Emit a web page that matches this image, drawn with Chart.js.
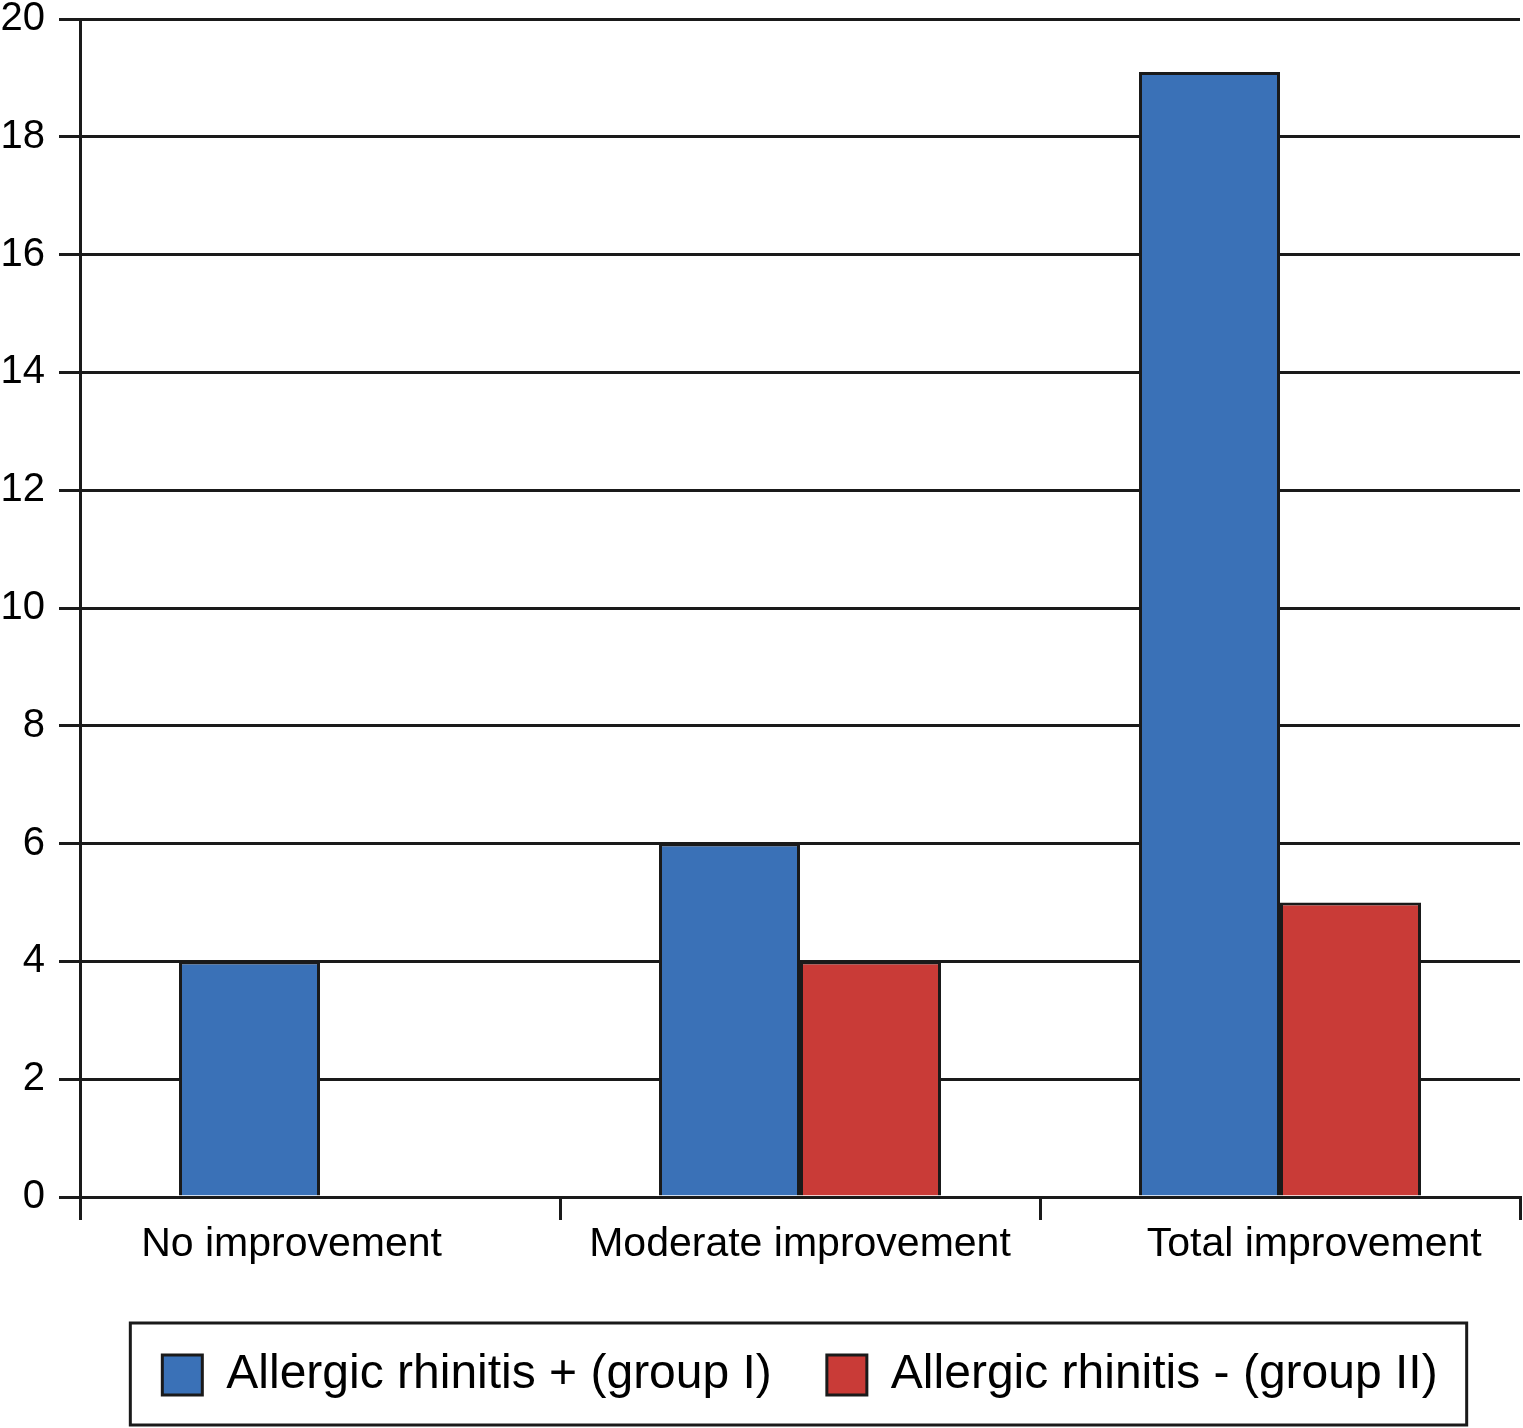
<!DOCTYPE html>
<html>
<head>
<meta charset="utf-8">
<script src="https://cdn.jsdelivr.net/npm/chart.js@4/dist/chart.umd.min.js"></script>
<style>
  html, body { margin: 0; padding: 0; background: #fff; }
  #wrap { width: 1523px; height: 1428px; }
</style>
</head>
<body>
<div id="wrap"><canvas id="c" width="1523" height="1428"></canvas></div>
<script>
const categories = ["No improvement", "Moderate improvement", "Total improvement"];
const groupI = [4, 6, 19.1];
const groupII = [0, 4, 5];
const seriesNames = ["Allergic rhinitis + (group I)", "Allergic rhinitis - (group II)"];
const yTicks = [0, 2, 4, 6, 8, 10, 12, 14, 16, 18, 20];

const INK = '#1a1a1a';
const BLUE = '#3a71b7';
const RED = '#c93b37';

Chart.defaults.font.family = '"Liberation Sans", Arial, Helvetica, sans-serif';
Chart.defaults.color = '#000';

const legendBorder = {
  id: 'legendBorder',
  afterDraw(chart) {
    const hb = chart.legend && chart.legend.legendHitBoxes;
    if (!hb || !hb.length) return;
    const first = hb[0], last = hb[hb.length - 1];
    const left = first.left - 32;
    const right = last.left + last.width + 29;
    const top = first.top - 28;
    const bottom = first.top + first.height + 26;
    const ctx = chart.ctx;
    ctx.save();
    ctx.strokeStyle = INK;
    ctx.lineWidth = 3;
    ctx.strokeRect(left, top, right - left, bottom - top);
    ctx.restore();
  }
};

// the original's category labels sit slightly spread out from the category centres
const labelPad = [[0, 5], [0, 0], [6, 0]];

new Chart(document.getElementById('c'), {
  type: 'bar',
  data: {
    labels: categories,
    datasets: [
      { label: seriesNames[0], data: groupI, backgroundColor: BLUE, borderColor: INK, borderWidth: 3 },
      { label: seriesNames[1], data: groupII, backgroundColor: RED, borderColor: INK, borderWidth: 3 }
    ]
  },
  options: {
    responsive: false,
    animation: false,
    layout: { padding: { top: 0, left: 0, right: 3, bottom: 19 } },
    datasets: { bar: { categoryPercentage: 0.5875, barPercentage: 1.0 } },
    plugins: {
      tooltip: { enabled: false },
      legend: {
        position: 'bottom',
        fullSize: false,
        labels: {
          boxWidth: 40,
          boxHeight: 40,
          padding: 55,
          color: '#000',
          font: { size: 48 }
        }
      }
    },
    scales: {
      x: {
        afterFit(scale) { scale.height = 99; },
        grid: { display: true, drawOnChartArea: false, drawTicks: true, tickLength: 23, color: INK, lineWidth: 3, offset: true },
        border: { display: true, color: INK, width: 3 },
        ticks: {
          font: { size: 41 }, color: '#000', padding: 0,
          callback(value, index) {
            const p = labelPad[index] || [0, 0];
            return ' '.repeat(p[0]) + categories[index] + ' '.repeat(p[1]);
          }
        }
      },
      y: {
        min: 0,
        max: 20,
        afterFit(scale) { scale.width = 80; },
        afterBuildTicks(scale) { scale.ticks = yTicks.map(v => ({ value: v })); },
        grid: { color: INK, lineWidth: 3, tickLength: 21, drawTicks: true },
        border: { display: true, color: INK, width: 3 },
        ticks: { stepSize: 2, font: { size: 40, lineHeight: 0.25 }, color: '#000', padding: 14 }
      }
    }
  },
  plugins: [legendBorder]
});
</script>
</body>
</html>
